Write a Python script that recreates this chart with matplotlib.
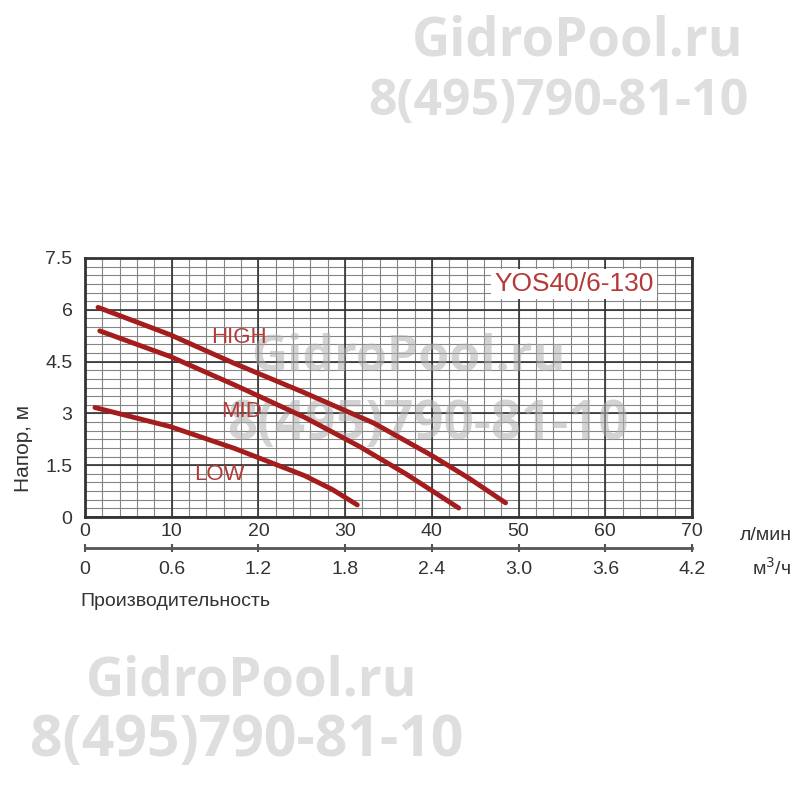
import numpy as np
import matplotlib
matplotlib.use('Agg')
import matplotlib.pyplot as plt

# head curves (flow in l/min, head in m)
high_q = [1.5, 9.8, 17.2, 25.3, 33.3, 40, 44.3, 48.5]
high_h = [6.07, 5.28, 4.45, 3.6, 2.72, 1.78, 1.12, 0.41]
mid_q = [1.7, 9.8, 17.2, 25.3, 31.6, 37, 43.1]
mid_h = [5.39, 4.65, 3.83, 2.89, 2.05, 1.25, 0.26]
low_q = [1.15, 9.8, 17.2, 25.3, 28.5, 31.4]
low_h = [3.17, 2.62, 1.99, 1.2, 0.8, 0.35]

xticks = [0, 10, 20, 30, 40, 50, 60, 70]
yticks = [0, 1.5, 3, 4.5, 6, 7.5]
m3_ticks = [0, 0.6, 1.2, 1.8, 2.4, 3.0, 3.6, 4.2]
m3_labels = ['0', '0.6', '1.2', '1.8', '2.4', '3.0', '3.6', '4.2']

red = '#a51c1c'
txt_red = '#b43a3a'
wm = '#dedede'
arial = ['Liberation Sans', 'DejaVu Sans']
bold_wm = ['Open Sans', 'DejaVu Sans']

fig = plt.figure(figsize=(8, 8), dpi=100)
fig.patch.set_facecolor('white')

# watermarks
fig.text(578/800, 1-42/800, 'GidroPool.ru', family=bold_wm, weight='bold',
         fontsize=38, color=wm, ha='center', va='center')
fig.text(558/800, 1-102/800, '8(495)790-81-10', family=bold_wm, weight='bold',
         fontsize=36, color=wm, ha='center', va='center')
fig.text(252/800, 1-681/800, 'GidroPool.ru', family=bold_wm, weight='bold',
         fontsize=38, color=wm, ha='center', va='center')
fig.text(247/800, 1-741/800, '8(495)790-81-10', family=bold_wm, weight='bold',
         fontsize=41, color=wm, ha='center', va='center')

ax = fig.add_axes([85/800, 1-517/800, 607/800, 259/800])
ax.set_xlim(0, 70)
ax.set_ylim(0, 7.5)

# grid
for x in np.arange(0, 71, 2):
    ax.axvline(x, color='#858585', lw=0.8, zorder=1)
for y in np.arange(0, 7.51, 0.25):
    ax.axhline(y, color='#858585', lw=0.8, zorder=1)
for x in xticks:
    ax.axvline(x, color='#333333', lw=1.2, zorder=1.5)
for y in yticks:
    ax.axhline(y, color='#333333', lw=1.2, zorder=1.5)

# watermark inside the chart
ax.text(408/800, 1-358/800, 'GidroPool.ru', transform=fig.transFigure,
        family=bold_wm, weight='bold', fontsize=36,
        color='#b0b0b0', alpha=0.55, ha='center', va='center', zorder=2)
ax.text(428/800, 1-425/800, '8(495)790-81-10', transform=fig.transFigure,
        family=bold_wm, weight='bold', fontsize=38,
        color='#b0b0b0', alpha=0.55, ha='center', va='center', zorder=2)

ax.plot(high_q, high_h, color=red, lw=3.5, solid_capstyle='round', zorder=3)
ax.plot(mid_q, mid_h, color=red, lw=3.5, solid_capstyle='round', zorder=3)
ax.plot(low_q, low_h, color=red, lw=3.5, solid_capstyle='round', zorder=3)

ax.text(17.8, 5.19, 'HIGH', color=txt_red, fontsize=16, family=arial, ha='center', va='center', zorder=4)
ax.text(18.0, 3.05, 'MID', color=txt_red, fontsize=16, family=arial, ha='center', va='center', zorder=4)
ax.text(15.5, 1.22, 'LOW', color=txt_red, fontsize=16, family=arial, ha='center', va='center', zorder=4)
ax.text(56.4, 6.75, 'YOS40/6-130', color=txt_red, fontsize=19, family=arial, ha='center', va='center',
        zorder=4, bbox=dict(facecolor='white', edgecolor='none', pad=2))

for s in ax.spines.values():
    s.set_linewidth(2)
    s.set_color('#333333')
    s.set_zorder(5)

ax.set_xticks(xticks)
ax.set_xticklabels([str(v) for v in xticks], family=arial, fontsize=14, color='#333333')
ax.set_yticks(yticks)
ax.set_yticklabels(['0', '1.5', '3', '4.5', '6', '7.5'], family=arial, fontsize=14, color='#333333')
ax.tick_params(axis='x', length=0, pad=4)
ax.tick_params(axis='y', length=0, pad=9)
ax.set_ylabel('Напор, м', family=arial, fontsize=15, color='#333333')
ax.yaxis.set_label_coords((33 - 85) / 607, (517 - 448) / 259)

sec = ax.secondary_xaxis(-0.12, functions=(lambda q: q * 0.06, lambda v: v / 0.06))
sec.set_xticks(m3_ticks)
sec.set_xticklabels(m3_labels, family=arial, fontsize=14, color='#333333')
sec.tick_params(axis='x', direction='inout', length=6, width=1.5, color='#555555', pad=6)
sec.spines['bottom'].set_linewidth(2)
sec.spines['bottom'].set_color('#555555')

fig.text(740/800, 1-536/800, 'л/мин', family=arial, fontsize=14, color='#333333', va='center')
fig.text(752/800, 1-568/800, 'м$^3$/ч', family=arial, fontsize=14, color='#333333', va='center')
fig.text(80/800, 1-602/800, 'Производительность', family=arial, fontsize=14, color='#333333', va='center')

fig.savefig('out.png', dpi=100)
